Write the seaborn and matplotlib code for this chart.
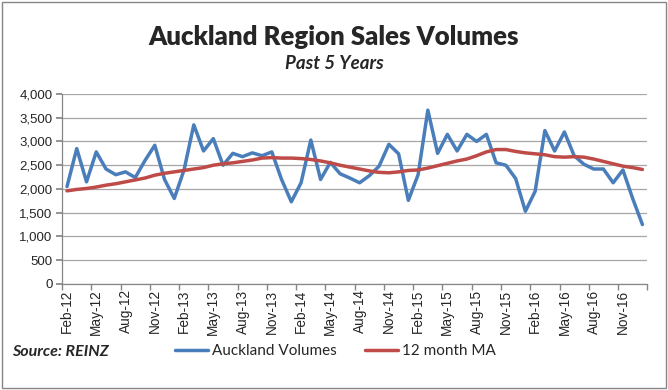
import pandas as pd
import numpy as np
import matplotlib.pyplot as plt
import seaborn as sns
from matplotlib.lines import Line2D

# Monthly sales volumes, Feb-12 .. Jan-17
months = pd.date_range("2012-02-01", "2017-01-01", freq="MS").strftime("%b-%y").tolist()

volumes = [2050, 2850, 2150, 2780, 2420, 2300, 2360, 2240, 2600, 2920, 2200, 1800,
           2400, 3350, 2800, 3060, 2500, 2750, 2680, 2760, 2700, 2780, 2200, 1730,
           2130, 3030, 2200, 2560, 2320, 2230, 2130, 2280, 2480, 2940, 2740, 1760,
           2300, 3660, 2750, 3150, 2800, 3150, 3000, 3150, 2550, 2500, 2220, 1530,
           1950, 3230, 2800, 3200, 2700, 2520, 2420, 2420, 2130, 2400, 1800, 1250]

ma12 = [1960, 1990, 2010, 2040, 2080, 2110, 2150, 2190, 2230, 2290, 2330, 2360,
        2390, 2420, 2450, 2500, 2530, 2550, 2580, 2610, 2650, 2660, 2650, 2650,
        2640, 2620, 2590, 2550, 2500, 2460, 2420, 2380, 2350, 2340, 2360, 2390,
        2400, 2440, 2490, 2540, 2590, 2630, 2700, 2780, 2830, 2830, 2790, 2760,
        2740, 2720, 2680, 2670, 2680, 2670, 2630, 2580, 2530, 2480, 2450, 2410]

series_names = ["Auckland Volumes", "12 month MA"]
colors = ["#4A7EBB", "#BE4B48"]

df = pd.DataFrame({"month": months, "pos": range(len(months)),
                   series_names[0]: volumes, series_names[1]: ma12})
long = df.melt(id_vars=["month", "pos"], value_vars=series_names,
               var_name="series", value_name="value")

sns.set_theme(style="white")
plt.rcParams["font.family"] = ["Lato", "DejaVu Sans"]

fig = plt.figure(figsize=(6.68, 3.9), dpi=100)
ax = fig.add_axes([0.093, 0.272, 0.876, 0.487])

sns.lineplot(data=long, x="pos", y="value", hue="series", hue_order=series_names,
             palette=colors, linewidth=2.5, ax=ax, legend=False)

ax.set_xlim(-0.5, len(months) - 0.5)
ax.set_ylim(0, 4000)
ax.set_yticks(range(0, 4001, 500))
ax.set_yticklabels([f"{v:,}" for v in range(0, 4001, 500)], fontsize=9.5,
                   family=["Liberation Sans"])
ax.yaxis.grid(True, color="#A6A6A6", linewidth=0.9)
ax.set_axisbelow(True)

# labels every 3 months, tick marks on category boundaries
label_pos = list(range(0, len(months), 3))
ax.set_xticks(label_pos)
ax.set_xticklabels([months[i] for i in label_pos], rotation=90, fontsize=9.8,
                   family=["Liberation Sans"])
ax.tick_params(axis="x", length=0, pad=4)
ax.set_xticks([p - 0.5 for p in label_pos] + [len(months) - 0.5], minor=True)
ax.tick_params(axis="x", which="minor", direction="out", length=4, color="#868686", bottom=True)
ax.tick_params(axis="y", direction="out", length=4, color="#868686", left=True, pad=3)

for side in ["top", "right"]:
    ax.spines[side].set_visible(False)
for side in ["left", "bottom"]:
    ax.spines[side].set_color("#868686")
    ax.spines[side].set_linewidth(0.9)
ax.set_xlabel("")
ax.set_ylabel("")

fig.text(0.5, 0.905, "Auckland Region Sales Volumes", ha="center", va="center",
         fontsize=18.5, fontweight="heavy")
fig.text(0.5, 0.838, "Past 5 Years", ha="center", va="center",
         fontsize=13.5, fontweight="bold", style="italic")
fig.text(0.018, 0.097, "Source: REINZ", ha="left", va="center",
         fontsize=11.5, fontweight="bold", style="italic")

handles = [Line2D([0], [0], color=c, lw=2.5) for c in colors]
fig.legend(handles, series_names, loc="center", bbox_to_anchor=(0.502, 0.1), ncol=2,
           frameon=False, fontsize=11, handlelength=2.2, handletextpad=0.25, columnspacing=1.8)

fig.add_artist(plt.Rectangle((0.003, 0.004), 0.994, 0.992, transform=fig.transFigure,
                             fill=False, edgecolor="#868686", linewidth=1))

fig.savefig("out.png", dpi=100)
